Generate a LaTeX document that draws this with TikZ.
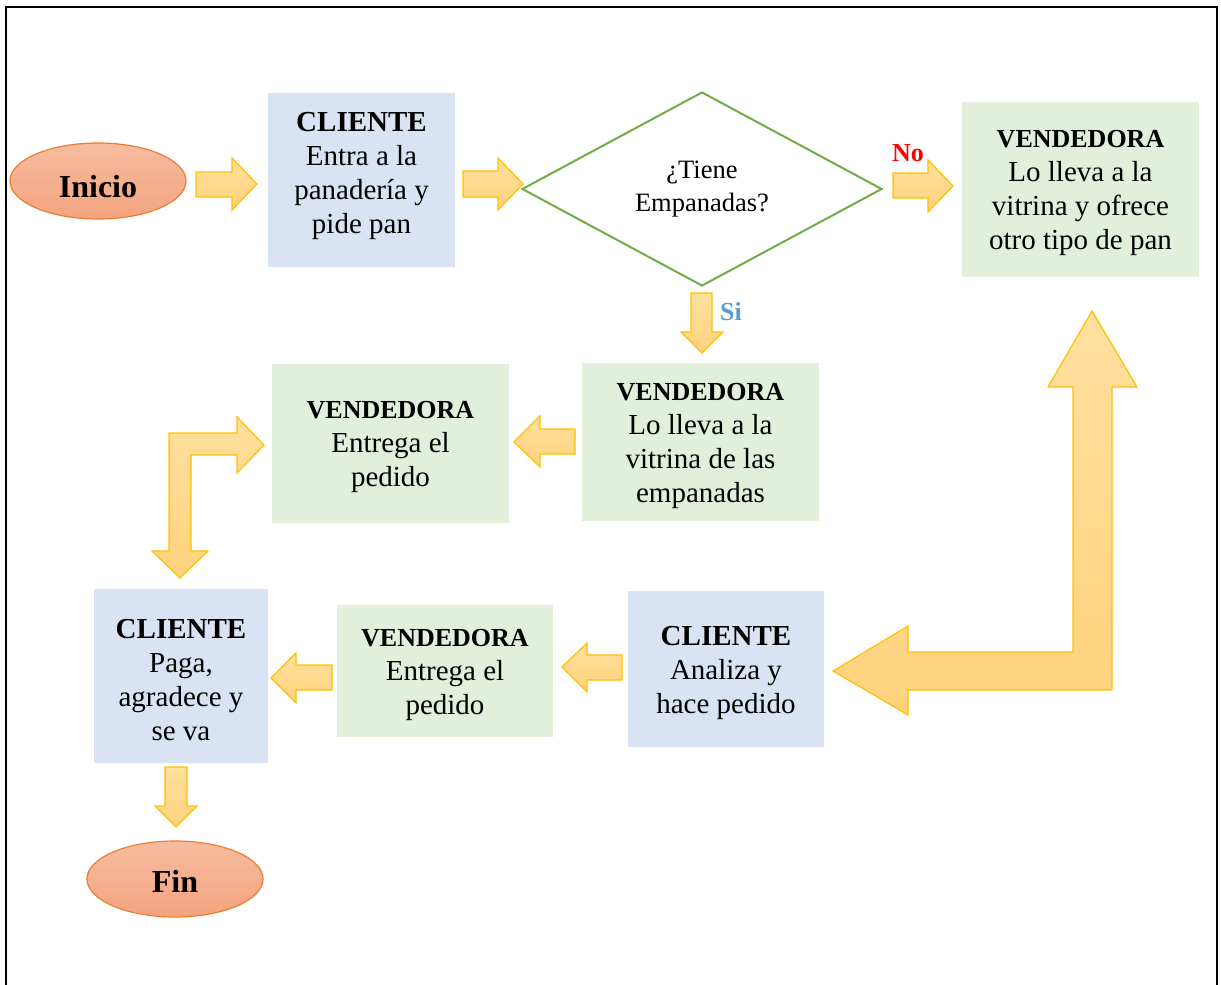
\documentclass[tikz,border=0pt]{standalone}
\usepackage{fontspec}
\setmainfont{Liberation Serif}
\usetikzlibrary{shapes.geometric}
\definecolor{boxblue}{HTML}{DAE3F3}
\definecolor{boxgreen}{HTML}{E2EFDA}
\definecolor{ellTop}{HTML}{F6BCA0}
\definecolor{ellBot}{HTML}{F4A47E}
\definecolor{ellLine}{HTML}{ED7D31}
\definecolor{arrTop}{HTML}{FFE09E}
\definecolor{arrBot}{HTML}{FFD27D}
\definecolor{arrLine}{HTML}{FFC000}
\definecolor{decLine}{HTML}{70AD47}
\definecolor{siBlue}{HTML}{5B9BD5}
\tikzset{
  bluebox/.style={rectangle, fill=boxblue, inner sep=0pt, align=center,
    font=\fontsize{29}{34}\selectfont},
  greenbox/.style={rectangle, fill=boxgreen, inner sep=0pt, align=center,
    font=\fontsize{29}{34}\selectfont},
  term/.style={ellipse, draw=ellLine, line width=1.2pt, top color=ellTop, bottom color=ellBot,
    minimum width=176pt, minimum height=76pt, inner sep=0pt, text depth=0pt,
    font=\fontsize{32}{36}\selectfont\bfseries},
  decision/.style={diamond, draw=decLine, line width=2pt, aspect=2, inner sep=0pt,
    minimum width=360pt, minimum height=194pt, align=center,
    font=\fontsize{26.5}{33}\selectfont},
  blockarrow/.style={draw=arrLine, line width=1.2pt, top color=arrTop, bottom color=arrBot, line join=miter},
}
\newcommand{\hdv}[1]{{\fontsize{26}{34}\selectfont\bfseries\rule{0pt}{25pt}#1}}
\newcommand{\hdc}[1]{{\fontsize{29}{34}\selectfont\bfseries\rule{0pt}{27pt}#1}}
\begin{document}
\begin{tikzpicture}[x=1pt,y=-1pt]
\useasboundingbox (0,0) rectangle (1221,985);
\draw[line width=2.5pt] (6,995) -- (6,7) -- (1217,7) -- (1217,995);

% nodes
\node[term, text height=33pt] (inicio) at (98,181) {Inicio};
\node[bluebox, minimum width=187pt, minimum height=174pt] (c1) at (361.5,180) {};
\node[align=center, font=\fontsize{29}{34}\selectfont, inner sep=0pt] (c1t) at (361.5,172) {\hdc{CLIENTE}\\Entra a la\\panadería y\\pide pan};
\node[decision] (dec) at (702,189) {¿Tiene\\Empanadas?};
\node[greenbox, minimum width=237pt, minimum height=175pt] (v1) at (1080.5,189.5) {\hdv{VENDEDORA}\\Lo lleva a la\\vitrina y ofrece\\otro tipo de pan};
\node[greenbox, minimum width=237pt, minimum height=158pt] (v2) at (700.5,442) {\hdv{VENDEDORA}\\Lo lleva a la\\vitrina de las\\empanadas};
\node[greenbox, minimum width=237pt, minimum height=159pt] (v3) at (390.5,443.5) {\hdv{VENDEDORA}\\Entrega el\\pedido};
\node[bluebox, minimum width=196pt, minimum height=156pt] (c2) at (726,669) {\hdc{CLIENTE}\\Analiza y\\hace pedido};
\node[greenbox, minimum width=216pt, minimum height=132pt] (v4) at (445,671) {\hdv{VENDEDORA}\\Entrega el\\pedido};
\node[bluebox, minimum width=174pt, minimum height=174pt] (c3) at (181,676) {\hdc{CLIENTE}\\Paga,\\agradece y\\se va};
\node[term, text height=27pt] (fin) at (175,879) {Fin};

% labels
\node[text=red, font=\fontsize{26}{30}\selectfont\bfseries] (no) at (908,153) {No};
\node[text=siBlue, font=\fontsize{26}{30}\selectfont\bfseries] (si) at (731,312) {Si};

% block arrows
% inicio -> c1
\draw[blockarrow] (196,172) -- (232,172) -- (232,158) -- (257,184) -- (232,210) -- (232,197) -- (196,197) -- cycle;
% c1 -> dec
\draw[blockarrow] (463,171) -- (498,171) -- (498,158) -- (523,184) -- (498,210) -- (498,197) -- (463,197) -- cycle;
% dec -> v1 (No)
\draw[blockarrow] (893,173) -- (928,173) -- (928,160) -- (953,186) -- (928,212) -- (928,198) -- (893,198) -- cycle;
% dec -> v2 (Si)
\draw[blockarrow] (691,293) -- (712,293) -- (712,332) -- (723,332) -- (702,353) -- (681,332) -- (691,332) -- cycle;
% v2 -> v3
\draw[blockarrow] (575,429) -- (540,429) -- (540,416) -- (514,442) -- (540,467) -- (540,454) -- (575,454) -- cycle;
% v3 -> c3 (bent)
\draw[blockarrow] (169,433) -- (237,433) -- (237,417) -- (264,445) -- (237,473) -- (237,455) -- (191,455) -- (191,551) -- (208,551) -- (180,578) -- (152,551) -- (169,551) -- cycle;
% v1 <-> c2 (big bent)
\draw[blockarrow] (1092,311) -- (1137,387) -- (1112,387) -- (1112,690) -- (908,690) -- (908,715) -- (833,671) -- (908,626) -- (908,652) -- (1073,652) -- (1073,387) -- (1048,387) -- cycle;
% c2 -> v4
\draw[blockarrow] (622,655) -- (587,655) -- (587,643) -- (562,667) -- (587,692) -- (587,680) -- (622,680) -- cycle;
% v4 -> c3
\draw[blockarrow] (332,665) -- (296,665) -- (296,653) -- (271,678) -- (296,703) -- (296,690) -- (332,690) -- cycle;
% c3 -> fin
\draw[blockarrow] (165,767) -- (187,767) -- (187,806) -- (197,806) -- (176,827) -- (155,806) -- (165,806) -- cycle;
\end{tikzpicture}
\end{document}
